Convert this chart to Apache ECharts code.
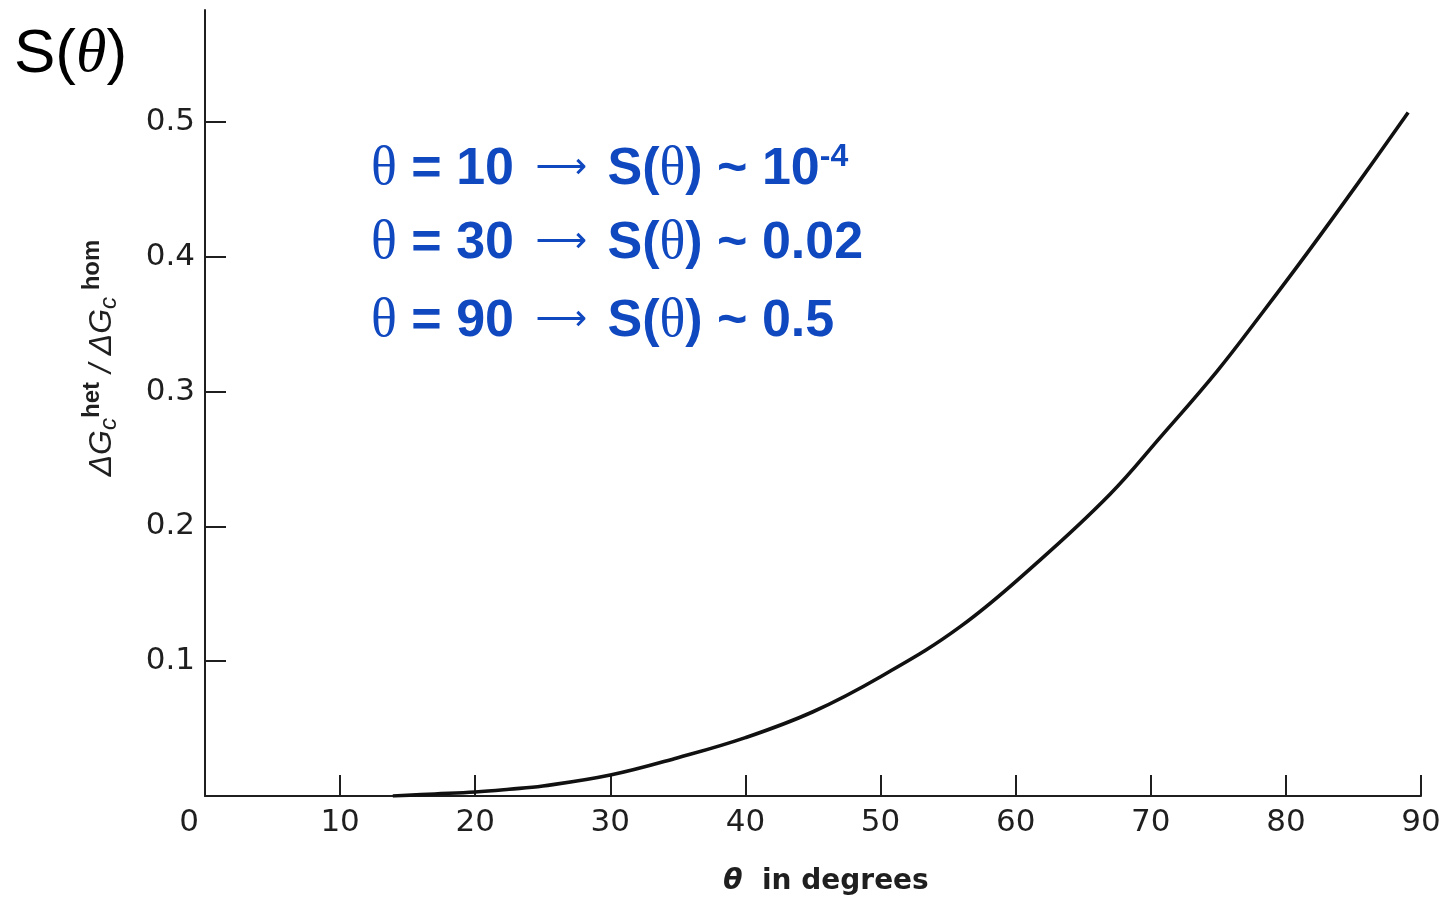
<!DOCTYPE html>
<html>
<head>
<meta charset="utf-8">
<title>S(theta)</title>
<script src="https://cdn.jsdelivr.net/npm/echarts@6/dist/echarts.min.js"></script>
<style>
  html, body { margin: 0; padding: 0; background: #fff; }
  #chart { width: 1445px; height: 900px; }
</style>
</head>
<body>
<div id="chart"></div>
<script>
// curve: theta (deg) -> S(theta)
let thetaDeg = [13.9, 17, 20, 22.5, 25, 30, 35, 40, 45, 50, 55.9, 61.8, 67, 70.7, 74.9, 78.3, 81.6, 85.3, 89.05];
let sValues  = [0, 0.0015, 0.003, 0.005, 0.0074, 0.0155, 0.0284, 0.0433, 0.0625, 0.0885, 0.1256, 0.175, 0.224, 0.266, 0.315, 0.359, 0.403, 0.454, 0.507];

let xTickValues = [10, 20, 30, 40, 50, 60, 70, 80, 90];
let xLabelValues = [0, 10, 20, 30, 40, 50, 60, 70, 80, 90];
let yTickValues = [0.1, 0.2, 0.3, 0.4, 0.5];

// annotation lines: theta, S(theta), exponent
let noteTheta = ['10', '30', '90'];
let noteValue = ['10', '0.02', '0.5'];
let noteExp = ['-4', '', ''];
let noteY = [170, 244, 322];

let INK = '#1f1f1f';
let BLUE = '#1048c0';
let SANS = 'Liberation Sans, Arial, sans-serif';
let SERIF = 'Liberation Serif, Times New Roman, serif';
let SCAN = 'DejaVu Sans, sans-serif';

let chart = echarts.init(document.getElementById('chart'));

let noteRich = {
  th: { fontFamily: SERIF, fontSize: 54, fill: BLUE },
  b: { fontFamily: SANS, fontWeight: 'bold', fontSize: 52, fill: BLUE },
  ar: { fontFamily: 'DejaVu Sans, sans-serif', fontWeight: 'normal', fontSize: 36, fill: BLUE, padding: [0, 6, 2, 7] },
  sup: { fontFamily: SANS, fontWeight: 'bold', fontSize: 32, fill: BLUE, padding: [0, 0, 25, 0] }
};

let noteTexts = noteTheta.map((t, i) => ({
  type: 'text',
  x: 371,
  y: noteY[i],
  style: {
    text: '{th|θ}{b| = ' + t + ' }{ar|⟶}{b| S(}{th|θ}{b|) ~ ' + noteValue[i] + '}' + (noteExp[i] ? '{sup|' + noteExp[i] + '}' : ''),
    verticalAlign: 'middle',
    rich: noteRich
  }
}));

let option = {
  backgroundColor: '#fff',
  animation: false,
  grid: { left: 205, right: 24, top: 10, bottom: 104 },
  xAxis: {
    type: 'value',
    min: 0,
    max: 90,
    interval: 10,
    splitLine: { show: false },
    axisLine: { lineStyle: { color: INK, width: 2 } },
    axisTick: { inside: true, length: 21, customValues: xTickValues, lineStyle: { color: INK, width: 2 } },
    axisLabel: {
      customValues: xLabelValues,
      margin: 11,
      color: INK,
      fontFamily: SCAN,
      fontSize: 31,
      formatter: v => v === 0 ? '{z|0}' : String(v),
      rich: { z: { fontFamily: SCAN, fontSize: 31, color: INK, padding: [0, 32, 0, 0] } }
    }
  },
  yAxis: {
    type: 'value',
    min: 0,
    max: 0.583,
    interval: 0.1,
    splitLine: { show: false },
    axisLine: { lineStyle: { color: INK, width: 2 } },
    axisTick: { inside: true, length: 21, customValues: yTickValues, lineStyle: { color: INK, width: 2 } },
    axisLabel: {
      customValues: yTickValues,
      margin: 10,
      color: INK,
      fontFamily: SCAN,
      fontSize: 31,
      formatter: v => v.toFixed(1)
    }
  },
  series: [{
    type: 'line',
    data: thetaDeg.map((t, i) => [t, sValues[i]]),
    smooth: 0.4,
    showSymbol: false,
    lineStyle: { color: '#111', width: 3.6 }
  }],
  graphic: [
    {
      type: 'text',
      x: 14,
      y: 55,
      style: {
        text: '{s|S(}{t|θ}{s|)}',
        verticalAlign: 'middle',
        rich: {
          s: { fontFamily: SANS, fontSize: 62, fill: '#000' },
          t: { fontFamily: SERIF, fontStyle: 'italic', fontSize: 62, fill: '#000' }
        }
      }
    },
    {
      type: 'text',
      x: 102,
      y: 358,
      rotation: Math.PI / 2,
      style: {
        text: '{m|ΔG}{sb|c}{sp|het}{m| / ΔG}{sb|c}{sp| hom}',
        align: 'center',
        verticalAlign: 'middle',
        rich: {
          m: { fontFamily: SANS, fontStyle: 'italic', fontSize: 32, fill: INK },
          sb: { fontFamily: SANS, fontStyle: 'italic', fontSize: 24, fill: INK, padding: [14, 0, 0, 0] },
          sp: { fontFamily: SANS, fontWeight: 'bold', fontSize: 24, fill: INK, padding: [0, 0, 20, 0] }
        }
      }
    },
    {
      type: 'text',
      x: 826,
      y: 882,
      style: {
        text: '{t|θ}{w|  in degrees}',
        align: 'center',
        verticalAlign: 'middle',
        rich: {
          t: { fontFamily: SCAN, fontStyle: 'italic', fontWeight: 'bold', fontSize: 28, fill: INK },
          w: { fontFamily: SCAN, fontWeight: 'bold', fontSize: 28, fill: INK }
        }
      }
    }
  ].concat(noteTexts)
};

chart.setOption(option);
</script>
</body>
</html>
